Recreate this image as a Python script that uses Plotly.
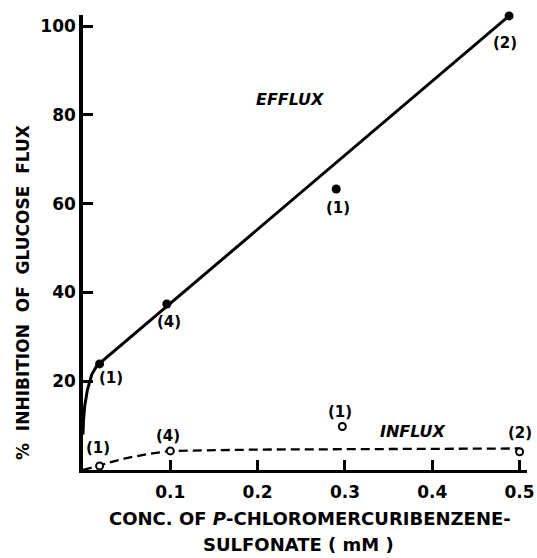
import plotly.graph_objects as go

efflux_x = [0.019, 0.096, 0.29, 0.488]
efflux_y = [23.9, 37.4, 63.3, 102.3]
efflux_n = ["(1)", "(4)", "(1)", "(2)"]

influx_x = [0.019, 0.1, 0.297, 0.5]
influx_y = [0.9, 4.3, 9.8, 4.1]
influx_n = ["(1)", "(4)", "(1)", "(2)"]

# Hand-drawn fitted curves
efflux_fit_x = [0, 0.0005, 0.002, 0.005, 0.01, 0.015, 0.019, 0.488]
efflux_fit_y = [8, 11, 14.5, 18, 21.5, 23.2, 24.0, 102.3]

influx_fit_x = [0, 0.01, 0.019, 0.03, 0.05, 0.075, 0.1, 0.2, 0.3, 0.4, 0.5]
influx_fit_y = [0, 0.5, 1.0, 1.7, 2.7, 3.6, 4.3, 4.6, 4.7, 4.8, 4.85]

x_ticks = [0.1, 0.2, 0.3, 0.4, 0.5]
x_tick_labels = ["0.1", "0.2", "0.3", "0.4", "0.5"]
y_ticks = [20, 40, 60, 80, 100]
y_tick_labels = ["20", "40", "60", "80", "100"]

FONT = "DejaVu Sans"

fig = go.Figure()
fig.add_trace(go.Scatter(x=efflux_fit_x, y=efflux_fit_y, mode="lines",
                         line=dict(color="black", width=3), cliponaxis=False, showlegend=False))
fig.add_trace(go.Scatter(x=influx_fit_x, y=influx_fit_y, mode="lines",
                         line=dict(color="black", width=2.3, dash="9px,5px"), cliponaxis=False, showlegend=False))
fig.add_trace(go.Scatter(x=efflux_x, y=efflux_y, mode="markers",
                         marker=dict(color="black", size=9), cliponaxis=False, showlegend=False))
fig.add_trace(go.Scatter(x=influx_x, y=influx_y, mode="markers",
                         marker=dict(color="white", size=7, line=dict(color="black", width=2)),
                         cliponaxis=False, showlegend=False))

# count labels next to points
eff_shift = [(11, -14), (2, -18), (2, -19), (-4, -27)]
inf_shift = [(-2, 18), (-2, 15), (-2, 15), (0, 19)]
for x, y, t, (dx, dy) in zip(efflux_x, efflux_y, efflux_n, eff_shift):
    fig.add_annotation(x=x, y=y, text=t, showarrow=False, xshift=dx, yshift=dy,
                       font=dict(family=FONT, size=15, color="black", weight="bold"))
for x, y, t, (dx, dy) in zip(influx_x, influx_y, influx_n, inf_shift):
    fig.add_annotation(x=x, y=y, text=t, showarrow=False, xshift=dx, yshift=dy,
                       font=dict(family=FONT, size=15, color="black", weight="bold"))

fig.add_annotation(x=0.237, y=83.5, text="<i>EFFLUX</i>", showarrow=False,
                   font=dict(family=FONT, size=16, color="black", weight="bold"))
fig.add_annotation(x=0.378, y=8.6, text="<i>INFLUX</i>", showarrow=False,
                   font=dict(family=FONT, size=16, color="black", weight="bold"))

# axis titles
fig.add_annotation(xref="paper", yref="paper", x=(310 - 83) / 444, y=0, yshift=-61,
                   text="CONC. OF <i>P</i>-CHLOROMERCURIBENZENE-", showarrow=False,
                   font=dict(family=FONT, size=18, color="black", weight="bold"))
fig.add_annotation(xref="paper", yref="paper", x=(298 - 83) / 444, y=0, yshift=-87,
                   text="SULFONATE ( mM )", showarrow=False,
                   font=dict(family=FONT, size=18, color="black", weight="bold"))
fig.add_annotation(xref="paper", yref="paper", x=0, xshift=-72, y=(470 - 293) / 455,
                   text="%  INHIBITION  OF  GLUCOSE  FLUX", textangle=-90, showarrow=False,
                   font=dict(family=FONT, size=17, color="black", weight="bold"))

fig.update_xaxes(range=[0, 0.5085], tickvals=x_ticks, ticktext=x_tick_labels,
                 showline=True, linecolor="black", linewidth=3, ticks="inside",
                 ticklen=10, tickwidth=2.5, tickcolor="black", showgrid=False, zeroline=False,
                 automargin=False, ticklabelstandoff=5,
                 tickfont=dict(family=FONT, size=17, color="black", weight="bold"))
fig.update_yaxes(range=[0, 102.5], tickvals=y_ticks, ticktext=y_tick_labels,
                 showline=True, linecolor="black", linewidth=3.5, ticks="inside",
                 ticklen=10, tickwidth=2.5, tickcolor="black", showgrid=False, zeroline=False,
                 automargin=False,
                 tickfont=dict(family=FONT, size=17, color="black", weight="bold"))

fig.update_layout(width=537, height=558, margin=dict(l=83, r=10, t=15, b=88),
                  plot_bgcolor="white", paper_bgcolor="white", showlegend=False)

fig.write_html("out.html", config={"displayModeBar": False},
               post_script="document.body.style.margin='0';document.body.style.overflow='hidden';")
